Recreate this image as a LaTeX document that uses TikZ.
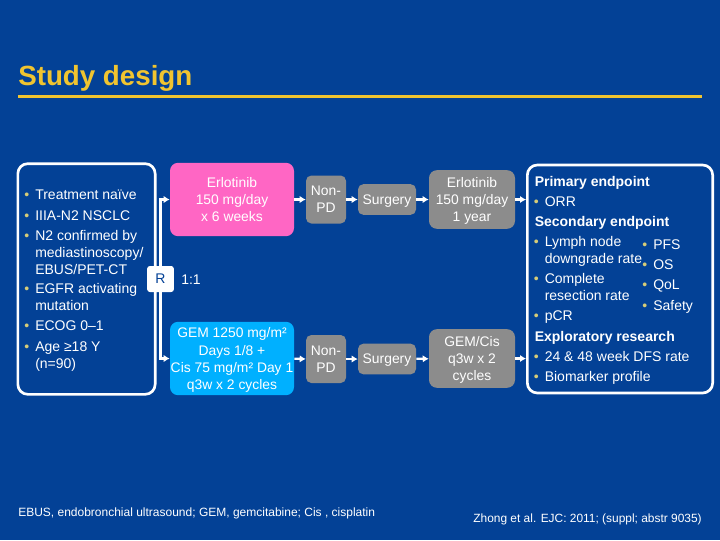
\documentclass[tikz,border=0pt]{standalone}
\usepackage{fontspec}
\setmainfont{Liberation Sans}
\usetikzlibrary{arrows.meta}
\definecolor{slidebg}{RGB}{3,65,150}
\definecolor{titlecol}{RGB}{240,196,48}
\definecolor{dotcol}{RGB}{214,204,120}
\definecolor{pinkbox}{RGB}{255,102,196}
\definecolor{bluebox}{RGB}{0,176,255}
\definecolor{greybox}{RGB}{140,140,140}
\newcommand{\dotitem}{\makebox[0pt][r]{\textcolor{dotcol}{\textbullet}\hspace{4.5pt}}}
\tikzset{
  panel/.style={draw=white,line width=2pt,rounded corners=7.5pt},
  armbox/.style={rounded corners=6pt,text=white,align=center,text depth=0pt,font=\fontsize{10.4}{12.8}\selectfont},
  stepbox/.style={armbox,fill=greybox,rounded corners=4pt},
  listline/.style={text=white,anchor=base west,inner sep=0pt,yshift=-3.5pt,font=\fontsize{10.5}{12}\selectfont},
  flow/.style={draw=white,line width=1.7pt,-{Latex[length=4.5pt,width=5.5pt]}}
}
\begin{document}
\begin{tikzpicture}[x=0.75pt,y=-0.75pt]
  \fill [slidebg] (0,0) rectangle (720,540);
  \useasboundingbox (0,0) rectangle (720,540);
  % title
  \node [anchor=west,inner sep=0pt,text=titlecol,font=\fontsize{20.8}{24}\bfseries\selectfont] (title) at (18,78) {Study design};
  \coordinate (ruleL) at (18,96.5);
  \coordinate (ruleR) at (702,96.5);
  \draw [titlecol,line width=2.5pt] (ruleL) -- (ruleR);
  % panels
  \node [panel,minimum width=103pt,minimum height=173pt,inner sep=0pt] (entry) at (86.5,279) {};
  \node [panel,minimum width=139pt,minimum height=171pt,inner sep=0pt] (endpoints) at (620,279) {};
  % boxes
  \node [armbox,fill=pinkbox,minimum width=93pt,minimum height=55pt,inner sep=0pt,text depth=-1pt] (erlo) at (232,199.5) {Erlotinib\\150 mg/day\\x 6 weeks};
  \node [armbox,fill=bluebox,minimum width=93pt,minimum height=55pt,inner sep=0pt,text depth=-2pt] (gem) at (232,358.5) {GEM 1250 mg/m²\\Days 1/8 +\\Cis 75 mg/m² Day 1\\q3w x 2 cycles};
  \node [stepbox,minimum width=30pt,minimum height=36pt,inner sep=0pt] (nonpdA) at (326,199.5) {Non-\\PD};
  \node [stepbox,minimum width=30pt,minimum height=36pt,inner sep=0pt] (nonpdB) at (326,359) {Non-\\PD};
  \node [stepbox,minimum width=43.5pt,minimum height=23pt,inner sep=0pt] (surgA) at (387,199.5) {Surgery};
  \node [stepbox,minimum width=43.5pt,minimum height=23pt,inner sep=0pt] (surgB) at (387,359) {Surgery};
  \node [stepbox,rounded corners=6pt,minimum width=64.5pt,minimum height=44pt,inner sep=0pt] (erloyear) at (472,199.5) {Erlotinib\\150 mg/day\\1 year};
  \node [stepbox,rounded corners=6pt,minimum width=64.5pt,minimum height=44pt,inner sep=0pt] (gemcis) at (472,358.5) {GEM/Cis\\q3w x 2\\cycles};
  % connectors
  \draw [flow] (erlo) -- (nonpdA);
  \draw [flow] (nonpdA) -- (surgA);
  \draw [flow] (surgA) -- (erloyear);
  \draw [flow] (erloyear) -- (erloyear -| endpoints.west);
  \draw [flow] (gem) -- (nonpdB);
  \draw [flow] (nonpdB) -- (surgB);
  \draw [flow] (surgB) -- (gemcis);
  \draw [flow] (gemcis) -- (gemcis -| endpoints.west);
  % randomisation
  \node [fill=white,text=slidebg,rounded corners=2pt,minimum width=20pt,minimum height=19.5pt,inner sep=0pt,font=\fontsize{10.5}{12}\selectfont] (rand) at (160.5,279) {R};
  \node [listline] (ratio) at (181,279.5) {1:1};
  \draw [flow] (rand) |- (erlo);
  \draw [flow] (rand) |- (gem);
  % inclusion list
  \foreach \n/\y/\txt in {a/195/{\dotitem Treatment naïve},
      b/216/{\dotitem IIIA-N2 NSCLC},
      c/236/{\dotitem N2 confirmed by},
      d/253/{mediastinoscopy/},
      e/270/{EBUS/PET-CT},
      f/289/{\dotitem EGFR activating},
      g/306/{mutation},
      h/326/{\dotitem ECOG 0–1},
      i/347/{\dotitem Age ≥18 Y},
      j/364/{(n=90)}}
    \node [listline] (in\n) at (35,\y) {\txt};
  % endpoint list
  \foreach \n/\x/\y/\txt in {a/534.5/182/{\textbf{Primary endpoint}},
      b/544.5/202/{\dotitem ORR},
      c/534.5/222/{\textbf{Secondary endpoint}},
      d/544.5/242/{\dotitem Lymph node},
      e/544.5/259/{downgrade rate},
      f/544.5/279/{\dotitem Complete},
      g/544.5/296/{resection rate},
      h/544.5/316/{\dotitem pCR},
      i/534.5/337/{\textbf{Exploratory research}},
      j/544.5/357/{\dotitem 24 \& 48 week DFS rate},
      k/544.5/377/{\dotitem Biomarker profile}}
    \node [listline] (ep\n) at (\x,\y) {\txt};
  \foreach \n/\y/\txt in {a/245/PFS,b/265/OS,c/285/QoL,d/306/Safety}
    \node [listline] (ex\n) at (653,\y) {\dotitem \txt};
  % footnotes
  \node [anchor=west,inner sep=0pt,text=white,font=\fontsize{9}{10}\selectfont] (abbrev) at (18,513) {EBUS, endobronchial ultrasound; GEM, gemcitabine; Cis , cisplatin};
  \node [anchor=east,inner sep=0pt,text=white,font=\fontsize{8.95}{10}\selectfont] (source) at (702,519) {Zhong et al. EJC: 2011; (suppl; abstr 9035)};
\end{tikzpicture}
\end{document}
